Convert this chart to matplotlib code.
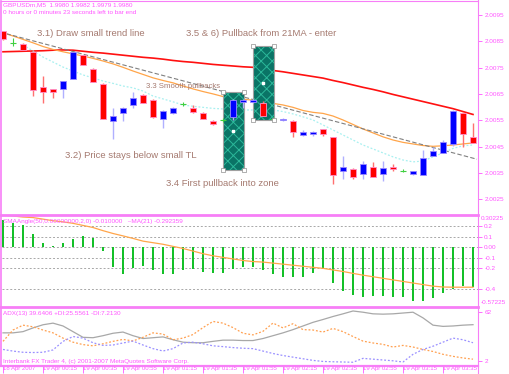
import matplotlib
matplotlib.use('Agg')
import matplotlib.pyplot as plt
from matplotlib.patches import Rectangle
from matplotlib.lines import Line2D

plt.rcParams['font.family'] = 'Liberation Sans'
plt.rcParams['hatch.linewidth'] = 0.7

# ---- data (GBPUSDm, M5) ----
open_ = [2.00887, 2.00845, 2.00839, 2.00811, 2.00678, 2.00668, 2.00668, 2.00706,
         2.00798, 2.00745, 2.00687, 2.00547, 2.00578, 2.00607, 2.00645, 2.00627,
         2.00555, 2.00577, 2.00611, 2.00598, 2.00578, 2.00547, 2.00551, 2.00564,
         2.00618, 2.00619, 2.00617, 2.00555, 2.00550, 2.00547, 2.00494, 2.00497,
         2.00516, 2.00486, 2.00358, 2.00365, 2.00345, 2.00374, 2.00345, 2.00374,
         2.00359, 2.00345, 2.00342, 2.00416, 2.00427, 2.00460, 2.00579, 2.00486]
high = [2.00889, 2.00863, 2.00844, 2.00813, 2.00718, 2.00670, 2.00699, 2.00811,
        2.00798, 2.00747, 2.00692, 2.00597, 2.00601, 2.00659, 2.00649, 2.00629,
        2.00590, 2.00600, 2.00620, 2.00606, 2.00582, 2.00551, 2.00558, 2.00631,
        2.00631, 2.00629, 2.00623, 2.00563, 2.00558, 2.00551, 2.00512, 2.00509,
        2.00518, 2.00488, 2.00415, 2.00369, 2.00395, 2.00393, 2.00395, 2.00384,
        2.00365, 2.00358, 2.00437, 2.00450, 2.00475, 2.00589, 2.00583, 2.00539]
low = [2.00855, 2.00832, 2.00817, 2.00642, 2.00617, 2.00636, 2.00636, 2.00706,
       2.00758, 2.00697, 2.00555, 2.00479, 2.00547, 2.00597, 2.00614, 2.00559,
       2.00521, 2.00574, 2.00604, 2.00577, 2.00553, 2.00533, 2.00543, 2.00551,
       2.00597, 2.00617, 2.00566, 2.00547, 2.00546, 2.00487, 2.00492, 2.00490,
       2.00490, 2.00307, 2.00326, 2.00327, 2.00327, 2.00334, 2.00320, 2.00358,
       2.00354, 2.00343, 2.00342, 2.00414, 2.00425, 2.00454, 2.00450, 2.00465]
close = [2.00858, 2.00845, 2.00817, 2.00665, 2.00658, 2.00658, 2.00699, 2.00808,
         2.00760, 2.00697, 2.00555, 2.00566, 2.00597, 2.00636, 2.00616, 2.00564,
         2.00587, 2.00596, 2.00611, 2.00583, 2.00555, 2.00535, 2.00551, 2.00627,
         2.00627, 2.00627, 2.00568, 2.00555, 2.00556, 2.00507, 2.00507, 2.00507,
         2.00497, 2.00342, 2.00374, 2.00334, 2.00384, 2.00336, 2.00368, 2.00366,
         2.00359, 2.00358, 2.00406, 2.00435, 2.00467, 2.00585, 2.00497, 2.00465]

ma_slow = [2.00810, 2.00811, 2.00812, 2.00813, 2.00814, 2.00816, 2.00817, 2.00816,
           2.00812, 2.00808, 2.00805, 2.00801, 2.00797, 2.00793, 2.00789, 2.00786,
           2.00782, 2.00777, 2.00773, 2.00770, 2.00766, 2.00762, 2.00759, 2.00756,
           2.00753, 2.00751, 2.00745, 2.00739, 2.00734, 2.00728, 2.00722, 2.00716,
           2.00710, 2.00701, 2.00693, 2.00684, 2.00675, 2.00667, 2.00658, 2.00648,
           2.00639, 2.00630, 2.00621, 2.00612, 2.00603, 2.00594, 2.00583, 2.00572]
ma21 = [2.00882, 2.00870, 2.00857, 2.00844, 2.00830, 2.00819, 2.00810, 2.00802,
        2.00794, 2.00785, 2.00775, 2.00764, 2.00751, 2.00737, 2.00724, 2.00711,
        2.00701, 2.00692, 2.00680, 2.00669, 2.00659, 2.00650, 2.00640, 2.00635,
        2.00630, 2.00626, 2.00620, 2.00614, 2.00608, 2.00599, 2.00587, 2.00580,
        2.00576, 2.00566, 2.00551, 2.00534, 2.00517, 2.00502, 2.00487, 2.00475,
        2.00466, 2.00460, 2.00454, 2.00451, 2.00453, 2.00456, 2.00460, 2.00464]
ma_fast = [None, None, 2.00836, 2.00813, 2.00790, 2.00771, 2.00752, 2.00737,
           2.00722, 2.00711, 2.00699, 2.00690, 2.00680, 2.00673, 2.00661, 2.00642,
           2.00631, 2.00620, 2.00608, 2.00603, 2.00599, 2.00595, 2.00593, 2.00591,
           2.00589, 2.00589, 2.00589, 2.00589, 2.00583, 2.00574, 2.00563, 2.00551,
           2.00532, 2.00513, 2.00494, 2.00475, 2.00456, 2.00441, 2.00426, 2.00411,
           2.00399, 2.00392, 2.00395, 2.00411, 2.00426, 2.00443, 2.00453, 2.00456]

trend_x = [-0.3, 47.4]
trend_y = [2.00885, 2.00402]

zone_left = [22.0, 25.0]
zone_right = [24.1, 27.1]
zone_top = [2.00658, 2.00832]
zone_bottom = [2.00361, 2.00551]

sma_angle = [0.26, 0.23, 0.21, 0.13, 0.044, 0.012, 0.038, 0.076, 0.108, 0.09,
             -0.03, -0.19, -0.257, -0.20, -0.18, -0.216, -0.257, -0.257, -0.216, -0.21,
             -0.235, -0.248, -0.248, -0.21, -0.19, -0.19, -0.22, -0.257, -0.28, -0.28,
             -0.28, -0.248, -0.21, -0.337, -0.416, -0.454, -0.47, -0.464, -0.464, -0.476,
             -0.476, -0.508, -0.514, -0.486, -0.438, -0.394, -0.369, -0.375]
angle_ma = [0.31, 0.30, 0.29, 0.285, 0.27, 0.255, 0.244, 0.23, 0.21, 0.19,
            0.16, 0.133, 0.11, 0.086, 0.06, 0.045, 0.03, 0.01, -0.01, -0.035,
            -0.06, -0.08, -0.095, -0.11, -0.125, -0.135, -0.14, -0.15, -0.16, -0.17,
            -0.18, -0.19, -0.2, -0.215, -0.23, -0.248, -0.265, -0.28, -0.295, -0.31,
            -0.325, -0.34, -0.355, -0.37, -0.378, -0.38, -0.38, -0.38]

adx = [36.5, 36.5, 38, 42.6, 46.5, 48.5, 45, 38, 31, 30.5, 33, 36, 37.5, 33, 29.5, 30.5,
       31.5, 28, 25, 24.3, 24.3, 26, 27.5, 27.5, 27, 27, 29.5, 33, 36.5, 40.5, 45, 49.5,
       53, 56.7, 60, 63.5, 62, 60, 59.6, 60, 61, 62, 55, 46, 44.5, 45, 46, 46.6]
plus_di = [26, 40, 46, 44, 40, 36.5, 30, 25, 22, 20.5, 23, 26, 28.4, 26.5, 31, 36.5,
           35, 28, 30, 34.4, 43, 50.6, 48.5, 43, 36, 34, 38.4, 48.6, 42.6, 47.8, 40.5, 40,
           37.5, 42, 38, 32, 26.3, 24, 22.3, 19, 21, 19, 16, 13.5, 10, 7.5, 5.5, 4]
minus_di = [16, 14, 12.5, 12.2, 12.5, 15.4, 26, 32, 30, 24.3, 21, 21.5, 24, 26.3, 21.5, 17,
            14.1, 17, 24, 25, 23, 20.5, 19.5, 18.3, 17.5, 17, 14, 11, 8.5, 6.5, 4.5, 2.5,
            1.2, 0.8, 0.5, 0.2, 5, 4, 3, 2, 0.5, 10, 16, 20, 25, 30, 28, 24.3]

price_ticks = [2.0095, 2.0085, 2.0075, 2.0065, 2.0055, 2.0045, 2.0035, 2.0025]
angle_levels = [0.2, 0.1, 0.0, -0.1, -0.2, -0.4]
angle_labels = ['0.2', '0.1', '0.00', '-0.1', '-0.2', '-0.4']
time_ticks = [0, 4, 8, 12, 16, 20, 24, 28, 32, 36, 40, 44]
time_labels = ['18 Apr 2007', '19 Apr 00:15', '19 Apr 00:35', '19 Apr 00:55',
               '19 Apr 01:15', '19 Apr 01:35', '19 Apr 01:55', '19 Apr 02:15',
               '19 Apr 02:35', '19 Apr 02:55', '19 Apr 03:15', '19 Apr 03:35']

W, H = 510, 374
PINK = '#f77ef7'
TXT = '#ff55ff'
NOTE = '#a57a70'


def box(top, bottom, left=2, right=478):
    return [left / W, 1 - bottom / H, (right - left) / W, (bottom - top) / H]


def fline(x0, y0, x1, y1, lw):
    fig.add_artist(Line2D([x0 / W, x1 / W], [1 - y0 / H, 1 - y1 / H],
                          color=PINK, lw=lw, transform=fig.transFigure))


fig = plt.figure(figsize=(W / 100, H / 100), dpi=100)
fig.patch.set_facecolor('white')

ax = fig.add_axes(box(2, 214))
ax2 = fig.add_axes(box(216, 305), sharex=ax)
ax3 = fig.add_axes(box(308, 365), sharex=ax)

for a in (ax, ax2, ax3):
    for s in a.spines.values():
        s.set_visible(False)
    a.yaxis.tick_right()
    a.tick_params(axis='y', colors=TXT, labelsize=4.6, length=3, width=0.6, pad=1.5)
    a.set_facecolor('white')
ax.tick_params(axis='x', bottom=False, labelbottom=False)
ax2.tick_params(axis='x', bottom=False, labelbottom=False)

x = list(range(len(open_)))

# ---- main price panel ----
ax.plot(x, ma_slow, color='#ff1010', lw=1.2, zorder=2)
ax.plot(x, ma21, color='#ffa54a', lw=0.9, zorder=2)
ax.plot(x, ma_fast, color='#a8f0f0', lw=0.9, ls=(0, (1.5, 1.5)), zorder=2)
ax.plot(trend_x, trend_y, color='#808080', lw=0.8, ls=(0, (4, 2)), zorder=2)

for l, r, t, b in zip(zone_left, zone_right, zone_top, zone_bottom):
    ax.add_patch(Rectangle((l, b), r - l, t - b, facecolor='#0a7466',
                           edgecolor='#2cb89a', hatch='xxx', lw=0, zorder=3))
    ax.add_patch(Rectangle((l, b), r - l, t - b, fill=False,
                           edgecolor='#a0a0a0', lw=0.8, zorder=4))
    ax.scatter([l, r, l, r], [t, t, b, b], marker='s', s=5, facecolor='white',
               edgecolor='#909090', linewidths=0.5, zorder=6)
    ax.scatter([(l + r) / 2], [(t + b) / 2], marker='s', s=3, color='white', zorder=6)

for i in x:
    o, h, lo, c = open_[i], high[i], low[i], close[i]
    if o == c:
        ax.vlines(i, lo, h, color='#40d040', lw=0.8, zorder=5)
        ax.hlines(c, i - 0.3, i + 0.3, color='#40d040', lw=0.8, zorder=5)
    elif c > o:
        ax.vlines(i, lo, h, color='#b0b0ff', lw=1.0, zorder=4)
        ax.bar(i, c - o, bottom=o, width=0.62, color='#0000ff',
               edgecolor='#9a8aff', lw=0.6, zorder=5)
    else:
        ax.vlines(i, lo, h, color='#ff7070', lw=1.0, zorder=4)
        ax.bar(i, o - c, bottom=c, width=0.62, color='#ff0000',
               edgecolor='#ff90c8', lw=0.6, zorder=5)

ax.set_xlim(-0.1, 47.5)
ax.set_ylim(2.00194, 2.00999)
ax.set_yticks(price_ticks)
ax.set_yticklabels(['%.4f' % p for p in price_ticks])

# ---- SMA angle panel ----
for lv in angle_levels:
    ax2.axhline(lv, color='#a8a8a8', lw=0.7, ls=(0, (2, 2)), zorder=1)
ax2.bar(x, sma_angle, width=0.22, color='#14c028', zorder=2)
ax2.plot(x, angle_ma, color='#ffa54a', lw=0.9, zorder=3)
ax2.set_ylim(-0.55, 0.30)
ax2.set_yticks(angle_levels)
ax2.set_yticklabels(angle_labels)
ax2.text(1.005, 1.0, '0.30225', transform=ax2.transAxes, color=TXT, fontsize=4.6,
         va='top', ha='left')
ax2.text(1.005, 0.0, '-0.57225', transform=ax2.transAxes, color=TXT, fontsize=4.6,
         va='bottom', ha='left')

# ---- ADX panel ----
ax3.plot(x, adx, color='#a8a8a8', lw=0.9)
ax3.plot(x, plus_di, color='#ffa050', lw=0.9, ls=(0, (1.5, 1.5)))
ax3.plot(x, minus_di, color='#9a90ff', lw=0.9, ls=(0, (1.5, 1.5)))
ax3.set_ylim(-3.2, 67.2)
ax3.set_yticks([62, 2])
ax3.set_yticklabels(['62', '2'])
ax3.set_xticks(time_ticks)
ax3.set_xticklabels(time_labels)
ax3.tick_params(axis='x', colors=TXT, labelsize=4.3, length=6, width=0.6, pad=-5.5,
                direction='out')
for lbl in ax3.get_xticklabels():
    lbl.set_horizontalalignment('left')

# ---- frame lines ----
fline(1, 1, 478, 1, 0.8)
fline(1.5, 1, 1.5, 366, 1.2)
fline(478, 0, 478, 374, 0.8)
fline(1, 215, 478, 215, 2.0)
fline(1, 306.5, 478, 306.5, 2.0)
fline(1, 366, 478, 366, 1.6)

# ---- texts ----
fig.text(3 / W, 1 - 5 / H, 'GBPUSDm,M5  1.9980 1.9982 1.9979 1.9980', color=TXT,
         fontsize=4.6, va='center', ha='left')
fig.text(3 / W, 1 - 13 / H, '0 hours or 0 minutes 23 seconds left to bar end', color=TXT,
         fontsize=4.6, va='center', ha='left')
fig.text(37 / W, 1 - 34 / H, '3.1) Draw small trend line', color=NOTE, fontsize=6.8,
         va='center', ha='left')
fig.text(186 / W, 1 - 34 / H, '3.5 & 6) Pullback from 21MA - enter', color=NOTE,
         fontsize=6.8, va='center', ha='left')
fig.text(146 / W, 1 - 86 / H, '3.3 Smooth pullbacks', color=NOTE, fontsize=5.6,
         va='center', ha='left')
fig.text(65 / W, 1 - 155 / H, '3.2) Price stays below small TL', color=NOTE, fontsize=6.8,
         va='center', ha='left')
fig.text(166 / W, 1 - 184 / H, '3.4 First pullback into zone', color=NOTE, fontsize=6.8,
         va='center', ha='left')
fig.text(3 / W, 1 - 221 / H, 'SMAAngle(50,0.00000000,2,0) -0.010000   ~MA(21) -0.292359',
         color=TXT, fontsize=4.6, va='center', ha='left')
fig.text(3 / W, 1 - 313 / H, 'ADX(13) 39.6406 +DI:25.5561 -DI:7.2130', color=TXT,
         fontsize=4.6, va='center', ha='left')
fig.text(3 / W, 1 - 362 / H, 'Interbank FX Trader 4, (c) 2001-2007 MetaQuotes Software Corp.',
         color=TXT, fontsize=4.6, va='center', ha='left')

fig.savefig('out.png', dpi=100, facecolor='white')
